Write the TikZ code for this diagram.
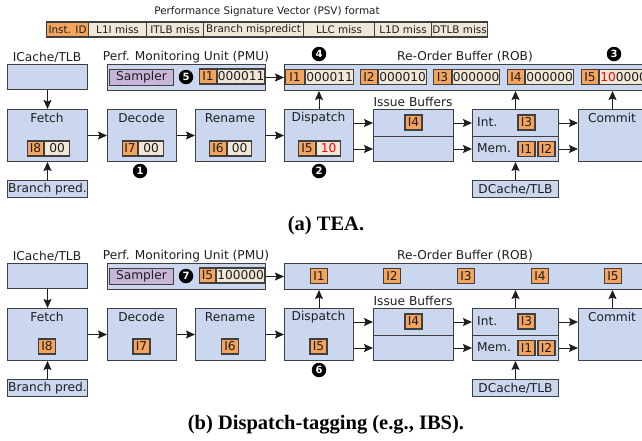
\documentclass[tikz,border=0pt]{standalone}
\usepackage{fontspec}
\setmainfont{DejaVu Sans}
\newfontfamily\capfont{Liberation Serif}
\usetikzlibrary{arrows.meta,calc}

\definecolor{blockblue}{HTML}{CBD7EE}
\definecolor{tagorange}{HTML}{F4A45C}
\definecolor{valbeige}{HTML}{F1E7D8}
\definecolor{sampviolet}{HTML}{C8B6DA}
\definecolor{edgegray}{HTML}{3F3F3F}
\definecolor{inkdark}{HTML}{1E1E1E}

\newcommand\stagefnt{\fontsize{12.2}{14}\selectfont}
\newcommand\psvfnt{\fontsize{10.4}{12}\selectfont}
\newcommand\dotfnt{\fontsize{10}{11}\selectfont\bfseries}
\newcommand\capfnt{\capfont\bfseries\fontsize{20.5}{24}\selectfont}

\tikzset{
  lbl/.style={font=\stagefnt, text=inkdark, inner sep=0},
  blk/.style={draw=edgegray, fill=blockblue, line width=1pt, inner sep=0,
    anchor=north west, font=\stagefnt, text=inkdark},
  sampler/.style={blk, fill=sampviolet},
  idcell/.style={draw=edgegray, fill=tagorange, line width=1.1pt, inner sep=0,
    minimum height=15, minimum width=17, font=\stagefnt, text=inkdark},
  valcell/.style={idcell, fill=valbeige, anchor=west},
  psvcell/.style={draw=edgegray, fill=valbeige, line width=1.1pt, inner sep=0,
    minimum height=15, anchor=west, font=\psvfnt, text=inkdark},
  numdot/.style={circle, fill=black, inner sep=0, minimum size=14.5,
    text=white, font=\dotfnt},
  conn/.style={draw=inkdark, line width=1pt,
    -{Stealth[length=9pt,width=8pt,inset=1.5pt]}},
}

% Pipeline skeleton shared by both variants; #1 prefixes the node names
\newcommand\drawcore[1]{%
  % front end and monitoring unit
  \node[lbl] (#1icachelbl) at (47,57) {ICache/TLB};
  \node[blk, minimum width=80, minimum height=25] (#1icache) at (7,64) {};
  \node[lbl] (#1pmulbl) at (186,57) {Perf. Monitoring Unit (PMU)};
  \node[blk, minimum width=158, minimum height=26] (#1pmu) at (107,64) {};
  \node[sampler, minimum width=64, minimum height=16] (#1samp) at (109,69) {Sampler};
  \node[lbl] (#1roblbl) at (465,57) {Re-Order Buffer (ROB)};
  \node[blk, minimum width=376, minimum height=26] (#1rob) at (284,64) {};
  % pipeline stages
  \node[blk, minimum width=80, minimum height=52] (#1fetch) at (7,109) {};
  \node[blk, minimum width=69, minimum height=52] (#1decode) at (107,109) {};
  \node[blk, minimum width=70, minimum height=52] (#1rename) at (195,109) {};
  \node[blk, minimum width=69, minimum height=52] (#1dispatch) at (284,109) {};
  \node[blk, minimum width=80, minimum height=27] (#1issuetop) at (373,109) {};
  \node[blk, minimum width=80, minimum height=25] (#1issuebot) at (373,136) {};
  \node[blk, minimum width=86, minimum height=27] (#1int) at (472,109) {};
  \node[blk, minimum width=86, minimum height=25] (#1mem) at (472,136) {};
  \node[blk, minimum width=68, minimum height=52] (#1commit) at (578,109) {};
  \node[blk, minimum width=80, minimum height=17] (#1bpred) at (7,180) {Branch pred.};
  \node[blk, minimum width=86, minimum height=17] (#1dcache) at (472,180) {DCache/TLB};
  % stage names
  \node[lbl] (#1fetchname) at (47,118) {Fetch};
  \node[lbl] (#1decodename) at (141.5,118) {Decode};
  \node[lbl] (#1renamename) at (230,118) {Rename};
  \node[lbl] (#1dispatchname) at (318.5,118) {Dispatch};
  \node[lbl] (#1commitname) at (612,118) {Commit};
  \node[lbl] (#1issuelbl) at (413,102) {Issue Buffers};
  \node[lbl, anchor=west] (#1intname) at (477,122) {Int.};
  \node[lbl, anchor=west] (#1memname) at (477,148.5) {Mem.};
  % instructions waiting in the back end
  \node[idcell] (#1iqI4) at (413.5,122.5) {I4};
  \node[idcell] (#1intI3) at (526.5,122.5) {I3};
  \node[idcell] (#1memI1) at (526.5,149) {I1};
  \node[idcell] (#1memI2) at (546.5,149) {I2};
  % connectors
  \draw[conn] (#1icache) -- (#1fetch);
  \draw[conn] (#1bpred) -- (#1fetch);
  \draw[conn] (#1fetch) -- (#1decode);
  \draw[conn] (#1decode) -- (#1rename);
  \draw[conn] (#1rename) -- (#1dispatch);
  \draw[conn] (#1pmu.east) -- (#1pmu.east -| #1rob.west);
  \draw[conn] (#1dispatch.north) -- (#1dispatch.north |- #1rob.south);
  \draw[conn] (#1issuetop.west -| #1dispatch.east) -- (#1issuetop.west);
  \draw[conn] (#1issuebot.west -| #1dispatch.east) -- (#1issuebot.west);
  \draw[conn] (#1issuetop) -- (#1int);
  \draw[conn] (#1issuebot) -- (#1mem);
  \draw[conn] (#1int.east) -- (#1int.east -| #1commit.west);
  \draw[conn] (#1mem.east) -- (#1mem.east -| #1commit.west);
  \draw[conn] (#1int.north) -- (#1int.north |- #1rob.south);
  \draw[conn] (#1commit.north) -- (#1commit.north |- #1rob.south);
  \draw[conn] (#1dcache) -- (#1mem);
}

\begin{document}
\begin{tikzpicture}[x=1pt,y=-1pt]
\useasboundingbox (0,0) rectangle (642,440);
\clip (0,0) rectangle (642,440);

% Performance Signature Vector layout
\node[font=\psvfnt, text=inkdark, inner sep=0] (psvtitle) at (267,12)
  {Performance Signature Vector (PSV) format};
\node[psvcell, fill=tagorange, minimum width=42] (psvid) at (46,29.5) {Inst. ID};
\node[psvcell, minimum width=58] (psvlii) at (88,29.5) {L1I miss};
\node[psvcell, minimum width=57] (psvitlb) at (146,29.5) {ITLB miss};
\node[psvcell, minimum width=100] (psvbr) at (203,29.5) {Branch mispredict};
\node[psvcell, minimum width=71] (psvllc) at (303,29.5) {LLC miss};
\node[psvcell, minimum width=57] (psvlid) at (374,29.5) {L1D miss};
\node[psvcell, minimum width=56] (psvdtlb) at (431,29.5) {DTLB miss};

% ---------------- (a) TEA ----------------
\drawcore{a}
% sampled PSV in the PMU
\node[numdot] (adot5) at (186,77) {5};
\node[idcell, anchor=west] (apmuid) at (199,76.5) {I1};
\node[valcell, minimum width=47] (apmuval) at (apmuid.east) {000011};
% PSVs held in the ROB
\node[idcell, anchor=west, minimum width=19] (arob1) at (285,77) {I1};
\node[valcell, minimum width=48] (arob1v) at (arob1.east) {000011};
\node[idcell, anchor=west] (arob2) at (360,77) {I2};
\node[valcell, minimum width=48] (arob2v) at (arob2.east) {000010};
\node[idcell, anchor=west, minimum width=18] (arob3) at (433,77) {I3};
\node[valcell, minimum width=47] (arob3v) at (arob3.east) {000000};
\node[idcell, anchor=west] (arob4) at (507,77) {I4};
\node[valcell, minimum width=48] (arob4v) at (arob4.east) {000000};
\node[idcell, anchor=west] (arob5) at (581,77) {I5};
\node[valcell, minimum width=48] (arob5v) at (arob5.east) {{\color{red}10}0000};
% PSVs travelling through the front end
\node[idcell, anchor=west, minimum width=16] (afetchid) at (27,148.5) {I8};
\node[valcell, minimum width=25] (afetchv) at (afetchid.east) {00};
\node[idcell, anchor=west, minimum width=15] (adecid) at (122,148.5) {I7};
\node[valcell, minimum width=25] (adecv) at (adecid.east) {00};
\node[idcell, anchor=west] (arenid) at (209,148.5) {I6};
\node[valcell, minimum width=24] (arenv) at (arenid.east) {00};
\node[idcell, anchor=west] (adisid) at (298,148.5) {I5};
\node[valcell, minimum width=24] (adisv) at (adisid.east) {\color{red}10};
% event markers
\node[numdot] (adot1) at (140,171) {1};
\node[numdot] (adot2) at (319,171) {2};
\node[numdot] (adot3) at (614,54) {3};
\node[numdot] (adot4) at (319,54) {4};
\node[font=\capfnt, text=black, inner sep=0] (acap) at (326,226) {(a) TEA.};

% ---------------- (b) Dispatch tagging ----------------
\begin{scope}[yshift=-199pt]
\drawcore{b}
\node[numdot] (bdot7) at (186,77) {7};
\node[idcell, anchor=west, minimum width=16] (bpmuid) at (199,76.5) {I5};
\node[valcell, minimum width=48] (bpmuval) at (bpmuid.east) {100000};
% tags only in the ROB
\node[idcell] (brob1) at (319,77) {I1};
\node[idcell] (brob2) at (392,77) {I2};
\node[idcell] (brob3) at (466,77) {I3};
\node[idcell] (brob4) at (540,77) {I4};
\node[idcell] (brob5) at (613,77) {I5};
% tags in the front end
\node[idcell] (bfetchid) at (47,147.5) {I8};
\node[idcell] (bdecid) at (141.5,147.5) {I7};
\node[idcell] (brenid) at (230,147.5) {I6};
\node[idcell] (bdisid) at (318.5,147.5) {I5};
\node[numdot] (bdot6) at (319,171) {6};
\node[font=\capfnt, text=black, inner sep=0] (bcap) at (326,226)
  {(b) Dispatch-tagging (e.g., IBS).};
\end{scope}
\end{tikzpicture}
\end{document}
